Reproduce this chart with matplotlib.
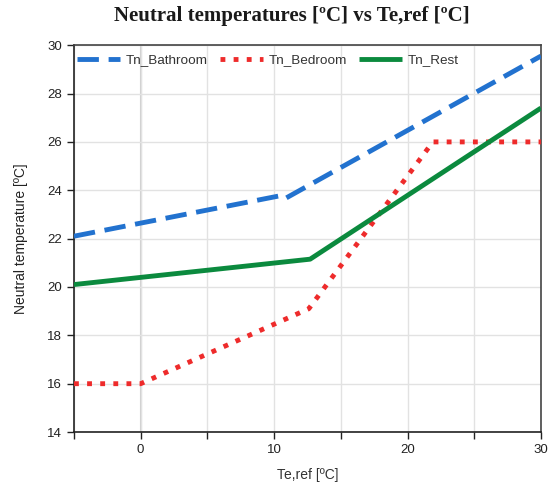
import matplotlib
matplotlib.use("Agg")
import matplotlib.pyplot as plt

# Outdoor reference temperature breakpoints and neutral temperatures
te_bathroom = [-5, 10.7, 10.9, 30]
tn_bathroom = [22.1, 23.8, 23.68, 29.55]

te_bedroom = [-5, 0, 12.6, 21.9, 30]
tn_bedroom = [16.0, 16.0, 19.1, 26.0, 26.0]

te_rest = [-5, 12.7, 30]
tn_rest = [20.1, 21.15, 27.4]

x_ticks = [0, 10, 20, 30]
x_minor = [-5, 5, 15, 25]
y_ticks = [14, 16, 18, 20, 22, 24, 26, 28, 30]

sans = ["Liberation Sans", "DejaVu Sans"]

fig = plt.figure(figsize=(5.5, 4.86), dpi=100)
ax = fig.add_axes([0.1345, 0.111, 0.849, 0.796])

lw = 3.5
ax.plot(te_bathroom, tn_bathroom, color="#2272cf", lw=lw,
        dashes=(4.4, 2.0), dash_capstyle="butt", label="Tn_Bathroom", zorder=3)
ax.plot(te_bedroom, tn_bedroom, color="#ee2b2b", lw=lw,
        dashes=(1, 1.7), dash_capstyle="butt", label="Tn_Bedroom", zorder=3)
ax.plot(te_rest, tn_rest, color="#0b8a3e", lw=lw,
        solid_capstyle="butt", label="Tn_Rest", zorder=3)

ax.set_xlim(-5, 30)
ax.set_ylim(14, 30)
ax.set_xticks(x_ticks)
ax.set_xticks(x_minor, minor=True)
ax.set_yticks(y_ticks)
ax.grid(True, which="both", color="#e2e2e2", lw=1.0, zorder=0)
ax.axvline(0, color="#cfcfcf", lw=1.5, zorder=1)

ax.tick_params(axis="both", which="both", direction="out", length=5,
               width=1.0, color="#222222", labelsize=9.5, labelcolor="#222222")
for lab in ax.get_xticklabels() + ax.get_yticklabels():
    lab.set_family(sans)
for side in ["left", "bottom"]:
    ax.spines[side].set_color("#222222")
    ax.spines[side].set_linewidth(1.2)
for side in ["top", "right"]:
    ax.spines[side].set_color("#444444")
    ax.spines[side].set_linewidth(1.2)

ax.set_xlabel("Te,ref [ºC]", fontsize=10, family=sans, color="#333333", labelpad=9)
ax.set_ylabel("Neutral temperature [ºC]", fontsize=10, family=sans, color="#222222", labelpad=14)

fig.suptitle("Neutral temperatures [ºC] vs Te,ref [ºC]", x=0.53, y=0.988,
             fontsize=15, fontweight="bold", family=["Liberation Serif", "DejaVu Serif"],
             color="#1a1a1a")

leg = ax.legend(loc="upper left", ncol=3, frameon=False,
                prop={"family": sans, "size": 9.7},
                handlelength=3.2, handletextpad=0.4, columnspacing=0.9,
                borderaxespad=0.25, bbox_to_anchor=(-0.012, 1.0))
for t in leg.get_texts():
    t.set_color("#333333")

fig.savefig("out.png", dpi=100)
